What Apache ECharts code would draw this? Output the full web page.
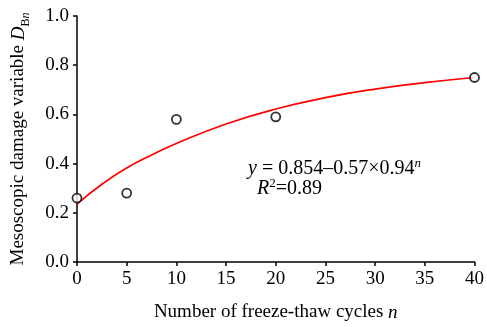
<!DOCTYPE html>
<html>
<head>
<meta charset="utf-8">
<script src="https://cdn.jsdelivr.net/npm/echarts@6/dist/echarts.min.js"></script>
<style>
  html, body { margin: 0; padding: 0; background: #fff; }
  #chart { width: 487px; height: 327px; }
</style>
</head>
<body>
<div id="chart"></div>
<script>
// 实测点 (冻融循环次数 n, 细观损伤变量 D_Bn)
const cycles = [0, 5, 10, 20, 40];
const damage = [0.26, 0.28, 0.58, 0.59, 0.75];

// 拟合曲线
const fitCycles = [0, 2.5, 5, 7.5, 10, 15, 20, 25, 30, 35, 40];
const fitDamage = [0.235, 0.316, 0.382, 0.435, 0.482, 0.561, 0.622, 0.668, 0.703, 0.729, 0.75];

const xTicks = { min: 0, max: 40, interval: 5 };
const yTicks = { min: 0, max: 1, interval: 0.2 };

const font = '"Liberation Serif", "Times New Roman", serif';

const chart = echarts.init(document.getElementById('chart'));
chart.setOption({
    animation: false,
    backgroundColor: '#fff',
    textStyle: { fontFamily: font },
    grid: {
        left: 77,
        right: 11,
        top: 16,
        bottom: 59
    },
    xAxis: {
        type: 'value',
        min: xTicks.min,
        max: xTicks.max,
        interval: xTicks.interval,
        name: 'Number of freeze-thaw cycles {i|n}',
        nameLocation: 'middle',
        nameGap: 41,
        nameTextStyle: {
            fontFamily: font,
            fontSize: 19,
            color: '#000',
            rich: { i: { fontFamily: font, fontSize: 19, fontStyle: 'italic', color: '#000' } }
        },
        splitLine: { show: false },
        axisLine: { lineStyle: { color: '#000', width: 1.5 } },
        axisTick: { inside: false, length: 4, lineStyle: { color: '#000', width: 1.5 } },
        axisLabel: { color: '#000', fontSize: 19, fontFamily: font, margin: 8 }
    },
    yAxis: {
        type: 'value',
        min: yTicks.min,
        max: yTicks.max,
        interval: yTicks.interval,
        name: 'Mesoscopic damage variable {i|D}{s|B}{si|n}',
        nameLocation: 'middle',
        nameRotate: 90,
        nameGap: 49,
        nameTextStyle: {
            fontFamily: font,
            fontSize: 19,
            color: '#000',
            rich: {
                i: { fontFamily: font, fontSize: 19, fontStyle: 'italic', color: '#000' },
                s: { fontFamily: font, fontSize: 12, color: '#000', verticalAlign: 'bottom', padding: [0, 0, -4, 0] },
                si: { fontFamily: font, fontSize: 12, fontStyle: 'italic', color: '#000', verticalAlign: 'bottom', padding: [0, 0, -4, 0] }
            }
        },
        splitLine: { show: false },
        axisLine: { show: true, lineStyle: { color: '#000', width: 1.5 } },
        axisTick: { show: true, inside: false, length: 4, lineStyle: { color: '#000', width: 1.5 } },
        axisLabel: {
            color: '#000',
            fontSize: 19,
            fontFamily: font,
            margin: 8,
            formatter: v => v.toFixed(1)
        }
    },
    graphic: [
        {
            type: 'text',
            left: 248,
            top: 157,
            style: {
                text: '{i|y} = 0.854–0.57×0.94{sup|n}',
                font: '20px ' + font,
                fill: '#000',
                rich: {
                    i: { fontFamily: font, fontSize: 20, fontStyle: 'italic', fill: '#000' },
                    sup: { fontFamily: font, fontSize: 13, fontStyle: 'italic', fill: '#000', verticalAlign: 'top', padding: [0, 0, 10, 0] }
                }
            }
        },
        {
            type: 'text',
            left: 257,
            top: 177,
            style: {
                text: '{i|R}{sup|2}=0.89',
                font: '20px ' + font,
                fill: '#000',
                rich: {
                    i: { fontFamily: font, fontSize: 20, fontStyle: 'italic', fill: '#000' },
                    sup: { fontFamily: font, fontSize: 13, fill: '#000', verticalAlign: 'top', padding: [0, 0, 10, 0] }
                }
            }
        }
    ],
    series: [
        {
            name: 'fit',
            type: 'line',
            smooth: true,
            data: fitCycles.map((n, i) => [n, fitDamage[i]]),
            symbol: 'none',
            lineStyle: { color: '#ff0000', width: 1.7 },
            z: 2
        },
        {
            name: 'test',
            type: 'scatter',
            data: cycles.map((n, i) => [n, damage[i]]),
            symbol: 'circle',
            symbolSize: 9,
            itemStyle: { color: '#fff', borderColor: '#000', borderWidth: 1.8 },
            z: 3
        }
    ]
});
</script>
</body>
</html>
